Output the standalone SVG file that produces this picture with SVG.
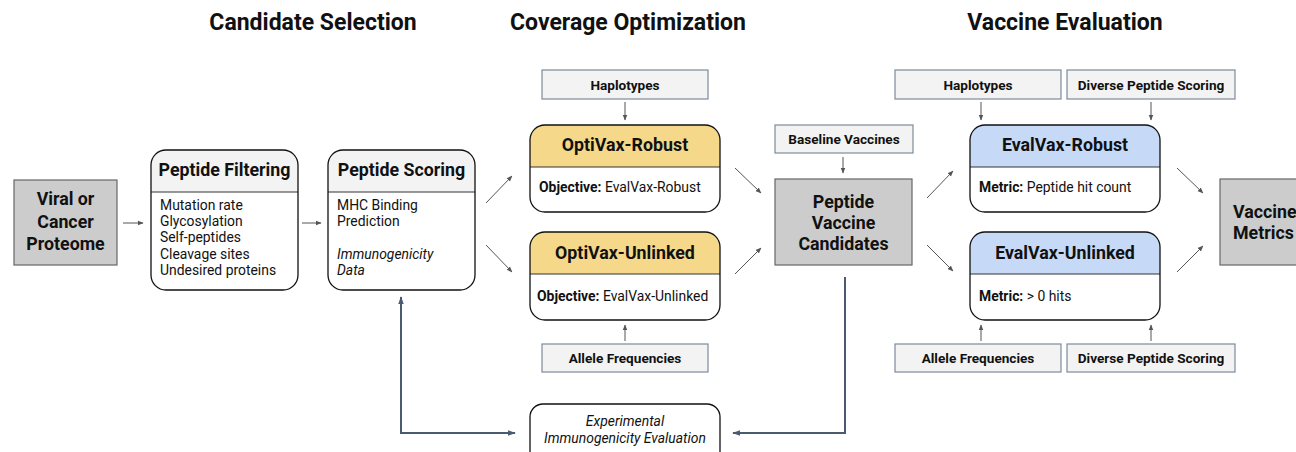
<svg xmlns="http://www.w3.org/2000/svg" width="1296" height="452" viewBox="0 0 1296 452">
  <defs>
    <marker id="ah" viewBox="0 0 10 10" refX="9" refY="5" markerWidth="6" markerHeight="6" orient="auto-start-reverse" markerUnits="userSpaceOnUse">
      <path d="M0,1 L10,5 L0,9 z" fill="#555"/>
    </marker>
    <marker id="ahb" viewBox="0 0 10 10" refX="9" refY="5" markerWidth="8" markerHeight="8" orient="auto-start-reverse" markerUnits="userSpaceOnUse">
      <path d="M0,1.5 L10,5 L0,8.5 z" fill="#4a5a70"/>
    </marker>
    <clipPath id="c-filt"><rect x="151" y="150" width="147" height="140" rx="15"/></clipPath>
    <clipPath id="c-score"><rect x="328" y="150" width="147" height="140" rx="15"/></clipPath>
    <clipPath id="c-ovr"><rect x="530" y="125" width="190" height="87" rx="15"/></clipPath>
    <clipPath id="c-ovu"><rect x="530" y="232" width="190" height="88" rx="15"/></clipPath>
    <clipPath id="c-evr"><rect x="970" y="125" width="190" height="87" rx="15"/></clipPath>
    <clipPath id="c-evu"><rect x="970" y="232" width="190" height="88" rx="15"/></clipPath>
  </defs>
  <style>
    text { font-family: Roboto, "Liberation Sans", Arial, sans-serif; fill: #111; }
    .title { font-size: 23px; font-weight: bold; text-anchor: middle; }
    .big { font-size: 17.8px; font-weight: bold; text-anchor: middle; }
    .left { text-anchor: start; }
    .item { font-size: 13.9px; }
    .small { font-size: 13.6px; font-weight: bold; text-anchor: middle; }
    .it { font-style: italic; }
    .mid { text-anchor: middle; }
    .gray { fill: #cccccc; stroke: #666; stroke-width: 1.2; }
    .inp { fill: #f3f3f3; stroke: #7d8a9c; stroke-width: 1.2; }
    .card { fill: #fff; stroke: #111; stroke-width: 1.3; }
    .sep { stroke: #333; stroke-width: 1; }
    .arr { stroke: #555; stroke-width: 1; fill: none; marker-end: url(#ah); }
    .fb { stroke: #4a5a70; stroke-width: 2; fill: none; }
  </style>

  <!-- section titles -->
  <g id="titles">
    <text class="title" x="313" y="30">Candidate Selection</text>
    <text class="title" x="628" y="30">Coverage Optimization</text>
    <text class="title" x="1065" y="30">Vaccine Evaluation</text>
  </g>

  <!-- candidate selection -->
  <g id="proteome">
    <rect class="gray" x="14" y="180" width="103" height="85"/>
    <text class="big" x="65.5" y="205">Viral or</text>
    <text class="big" x="65.5" y="228">Cancer</text>
    <text class="big" x="65.5" y="250">Proteome</text>
  </g>

  <g id="filtering">
    <rect x="151" y="150" width="147" height="42" fill="#f3f3f3" clip-path="url(#c-filt)"/>
    <line class="sep" x1="151" y1="192" x2="298" y2="192"/>
    <rect x="151" y="150" width="147" height="140" rx="15" fill="none" stroke="#111" stroke-width="1.3"/>
    <text class="big" x="224.5" y="176">Peptide Filtering</text>
    <text class="item" x="160" y="210">Mutation rate</text>
    <text class="item" x="160" y="226">Glycosylation</text>
    <text class="item" x="160" y="242">Self-peptides</text>
    <text class="item" x="160" y="259">Cleavage sites</text>
    <text class="item" x="160" y="275">Undesired proteins</text>
  </g>

  <g id="scoring">
    <rect x="328" y="150" width="147" height="42" fill="#f3f3f3" clip-path="url(#c-score)"/>
    <line class="sep" x1="328" y1="192" x2="475" y2="192"/>
    <rect x="328" y="150" width="147" height="140" rx="15" fill="none" stroke="#111" stroke-width="1.3"/>
    <text class="big" x="401.5" y="176">Peptide Scoring</text>
    <text class="item" x="337" y="210">MHC Binding</text>
    <text class="item" x="337" y="226">Prediction</text>
    <text class="item it" x="337" y="259">Immunogenicity</text>
    <text class="item it" x="337" y="275">Data</text>
  </g>

  <!-- coverage optimization -->
  <g id="haplo-opt">
    <rect class="inp" x="542" y="70" width="166" height="29"/>
    <text class="small" x="625" y="90">Haplotypes</text>
  </g>

  <g id="optivax-robust">
    <rect x="530" y="125" width="190" height="42" fill="#f5d88a" clip-path="url(#c-ovr)"/>
    <line class="sep" x1="530" y1="167" x2="720" y2="167"/>
    <rect x="530" y="125" width="190" height="87" rx="15" fill="none" stroke="#111" stroke-width="1.3"/>
    <text class="big" x="625" y="151">OptiVax-Robust</text>
    <text class="item" x="539" y="192"><tspan font-weight="bold">Objective:</tspan> EvalVax-Robust</text>
  </g>

  <g id="optivax-unlinked">
    <rect x="530" y="232" width="190" height="42" fill="#f5d88a" clip-path="url(#c-ovu)"/>
    <line class="sep" x1="530" y1="274" x2="720" y2="274"/>
    <rect x="530" y="232" width="190" height="88" rx="15" fill="none" stroke="#111" stroke-width="1.3"/>
    <text class="big" x="625" y="259">OptiVax-Unlinked</text>
    <text class="item" x="537" y="301"><tspan font-weight="bold">Objective:</tspan> EvalVax-Unlinked</text>
  </g>

  <g id="allele-opt">
    <rect class="inp" x="542" y="344" width="166" height="28"/>
    <text class="small" x="625" y="363">Allele Frequencies</text>
  </g>

  <g id="experimental">
    <rect class="card" x="530" y="404" width="190" height="60" rx="13"/>
    <text class="item it mid" x="625" y="426">Experimental</text>
    <text class="item it mid" x="625" y="443">Immunogenicity Evaluation</text>
  </g>

  <g id="baseline">
    <rect class="inp" x="775" y="125" width="138" height="28"/>
    <text class="small" x="844" y="144">Baseline Vaccines</text>
  </g>

  <g id="candidates">
    <rect class="gray" x="775" y="179" width="137" height="86"/>
    <text class="big" x="843.5" y="208">Peptide</text>
    <text class="big" x="843.5" y="229">Vaccine</text>
    <text class="big" x="843.5" y="250">Candidates</text>
  </g>

  <!-- vaccine evaluation -->
  <g id="haplo-eval">
    <rect class="inp" x="895" y="70" width="166" height="29"/>
    <text class="small" x="978" y="90">Haplotypes</text>
  </g>
  <g id="diverse-top">
    <rect class="inp" x="1067" y="70" width="168" height="29"/>
    <text class="small" x="1151" y="90">Diverse Peptide Scoring</text>
  </g>

  <g id="evalvax-robust">
    <rect x="970" y="125" width="190" height="42" fill="#c6d9f7" clip-path="url(#c-evr)"/>
    <line class="sep" x1="970" y1="167" x2="1160" y2="167"/>
    <rect x="970" y="125" width="190" height="87" rx="15" fill="none" stroke="#111" stroke-width="1.3"/>
    <text class="big" x="1065" y="151">EvalVax-Robust</text>
    <text class="item" x="979" y="192"><tspan font-weight="bold">Metric:</tspan> Peptide hit count</text>
  </g>

  <g id="evalvax-unlinked">
    <rect x="970" y="232" width="190" height="42" fill="#c6d9f7" clip-path="url(#c-evu)"/>
    <line class="sep" x1="970" y1="274" x2="1160" y2="274"/>
    <rect x="970" y="232" width="190" height="88" rx="15" fill="none" stroke="#111" stroke-width="1.3"/>
    <text class="big" x="1065" y="259">EvalVax-Unlinked</text>
    <text class="item" x="979" y="301"><tspan font-weight="bold">Metric:</tspan> &gt; 0 hits</text>
  </g>

  <g id="allele-eval">
    <rect class="inp" x="895" y="344" width="166" height="28"/>
    <text class="small" x="978" y="363">Allele Frequencies</text>
  </g>
  <g id="diverse-bottom">
    <rect class="inp" x="1067" y="344" width="168" height="28"/>
    <text class="small" x="1151" y="363">Diverse Peptide Scoring</text>
  </g>

  <g id="metrics">
    <rect class="gray" x="1220" y="179" width="110" height="86"/>
    <text class="big left" x="1233" y="218">Vaccine</text>
    <text class="big left" x="1233" y="239">Metrics</text>
  </g>

  <!-- connectors -->
  <g id="connectors">
    <line class="arr" x1="123" y1="223" x2="143" y2="223"/>
    <line class="arr" x1="302" y1="223" x2="321" y2="223"/>
    <line class="arr" x1="486" y1="203" x2="512" y2="176"/>
    <line class="arr" x1="486" y1="245" x2="512" y2="272"/>
    <line class="arr" x1="625" y1="102" x2="625" y2="120"/>
    <line class="arr" x1="625" y1="341" x2="625" y2="325"/>
    <line class="arr" x1="735" y1="168" x2="761" y2="193"/>
    <line class="arr" x1="735" y1="274" x2="761" y2="248"/>
    <line class="arr" x1="843" y1="157" x2="843" y2="173"/>
    <line class="arr" x1="927" y1="198" x2="953" y2="171"/>
    <line class="arr" x1="927" y1="245" x2="953" y2="271"/>
    <line class="arr" x1="981" y1="102" x2="981" y2="120"/>
    <line class="arr" x1="1151" y1="102" x2="1151" y2="120"/>
    <line class="arr" x1="981" y1="341" x2="981" y2="325"/>
    <line class="arr" x1="1151" y1="341" x2="1151" y2="325"/>
    <line class="arr" x1="1177" y1="168" x2="1203" y2="193"/>
    <line class="arr" x1="1177" y1="272" x2="1203" y2="246"/>
    <!-- feedback loop through experimental evaluation -->
    <polyline class="fb" points="845,277 845,433 733,433" marker-end="url(#ahb)"/>
    <polyline class="fb" points="401,433 515,433" marker-end="url(#ahb)"/>
    <polyline class="fb" points="401,434 401,297" marker-end="url(#ahb)"/>
  </g>
</svg>
